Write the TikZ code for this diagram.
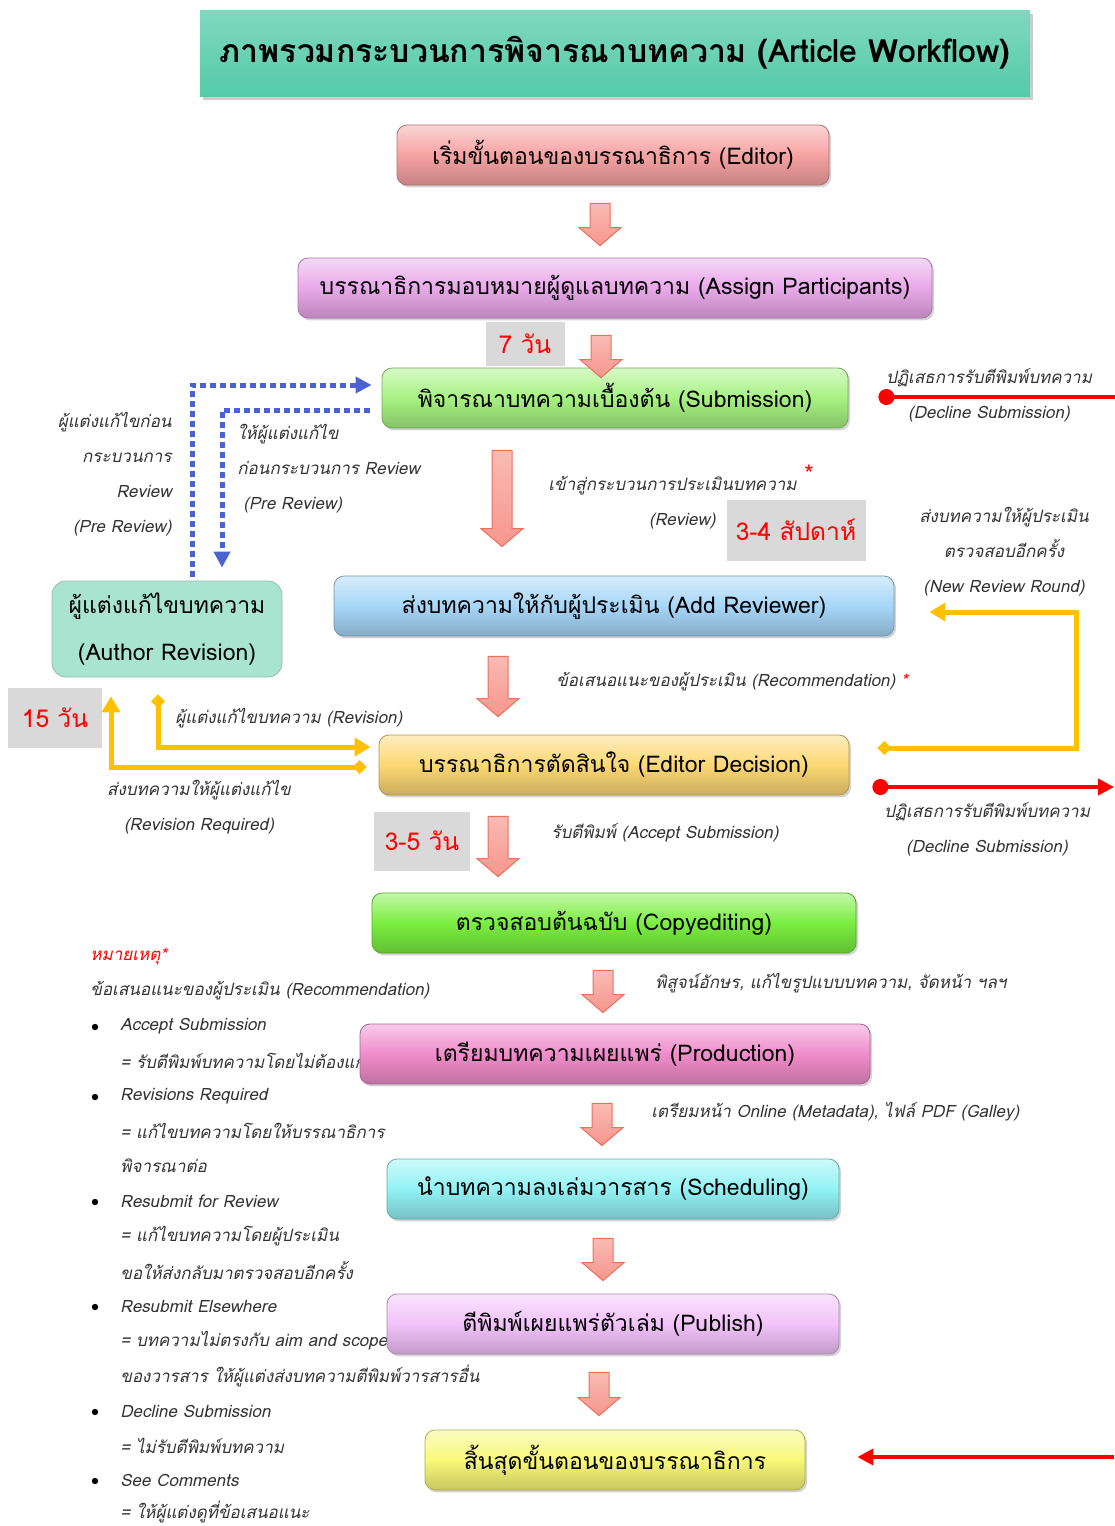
\documentclass[tikz,border=0pt]{standalone}
\usepackage{fontspec}
\setmainfont{Loma}[Script=Thai]
\usetikzlibrary{calc, arrows.meta, shadows}
\definecolor{tl}{HTML}{55CBA8}
\definecolor{pk}{HTML}{F7A2A2}
\definecolor{vi}{HTML}{E9A8EA}
\definecolor{lg}{HTML}{A6F282}
\definecolor{bl}{HTML}{A6D6F8}
\definecolor{mt}{HTML}{A8E4D0}
\definecolor{gd}{HTML}{FCD873}
\definecolor{gr}{HTML}{7AEE40}
\definecolor{mg}{HTML}{F08CCB}
\definecolor{cy}{HTML}{92F2F4}
\definecolor{lv}{HTML}{F2C2FA}
\definecolor{yl}{HTML}{F8F878}
\definecolor{gy}{HTML}{D9D9D9}
\definecolor{ye}{HTML}{FFC000}
\definecolor{bd}{HTML}{4A62D2}
\definecolor{ar}{HTML}{F6968C}
\definecolor{ae}{HTML}{EE6E5E}
\tikzset{
	box/.style={draw=#1!70!black, line width=0.4pt, rounded corners=5pt,
		top color=#1!45!white, bottom color=#1!80!black, middle color=#1,
		drop shadow={shadow xshift=1pt, shadow yshift=-1.2pt, opacity=0.35},
		minimum height=30pt, inner sep=0pt, font=\fontsize{11.5}{14}\selectfont},
	graybox/.style={fill=gy, text=red, inner sep=0pt, font=\fontsize{12.3}{14}\selectfont},
	lbl/.style={text=black!80, inner sep=0pt, font=\fontsize{8.5}{17.5}\selectfont\itshape},
	blockarr/.style={draw=ae, line width=0.5pt, top color=ar!65!white, bottom color=ar,
		to path={let \p1=(\tikztostart), \p2=(\tikztotarget) in
			(\x1-5pt,\y1) -- (\x1+5pt,\y1) -- (\x1+5pt,\y2+9pt) -- (\x1+10.5pt,\y2+9pt)
			-- (\x1,\y2) -- (\x1-10.5pt,\y2+9pt) -- (\x1-5pt,\y2+9pt) -- cycle}},
	yarr/.style={ye, line width=2.5pt, arrows={Diamond[length=7pt,width=7pt]-Triangle[length=8pt,width=9pt]}},
	rline/.style={red, line width=2pt},
	barr/.style={bd, line width=2.5pt, dash pattern=on 3pt off 2pt, -{Triangle[length=8pt,width=8pt]}}
}
\begin{document}
\begin{tikzpicture}[x=0.5pt, y=-0.5pt]

	\useasboundingbox (0,0) rectangle (1114,1526);

	\node[lbl, anchor=west, text=red] (note) at (90,957) {หมายเหตุ*};
	\node[lbl, anchor=west] (recnote) at (90,991) {ข้อเสนอแนะของผู้ประเมิน (Recommendation)};
	\foreach \y in {1027,1097,1202,1307,1412,1481} {
			\fill (95,\y) circle (1.6pt);
		}
	\foreach \y/\t in {1026/Accept Submission, 1061/= รับตีพิมพ์บทความโดยไม่ต้องแก้ไข,
			1096/Revisions Required, 1131/= แก้ไขบทความโดยให้บรรณาธิการ, 1166/พิจารณาต่อ,
			1201/Resubmit for Review, 1236/= แก้ไขบทความโดยผู้ประเมิน, 1271/ขอให้ส่งกลับมาตรวจสอบอีกครั้ง,
			1306/Resubmit Elsewhere, 1341/= บทความไม่ตรงกับ aim and scope,
			1376/ของวารสาร ให้ผู้แต่งส่งบทความตีพิมพ์วารสารอื่น,
			1411/Decline Submission, 1446/= ไม่รับตีพิมพ์บทความ,
			1480/See Comments, 1512/= ให้ผู้แต่งดูที่ข้อเสนอแนะ} {
			\node[lbl, anchor=west] (note\y) at (120,\y) {\t};
		}

	\node[top color=tl!75!white, bottom color=tl, minimum width=415pt, minimum height=43pt,
		drop shadow={shadow xshift=1.5pt, shadow yshift=-2pt, opacity=0.4},
		font=\bfseries\fontsize{16}{18}\selectfont] (title) at (615,53) {ภาพรวมกระบวนการพิจารณาบทความ (Article Workflow)};

	\node[box=pk, minimum width=216pt] (editor) at (613,155) {เริ่มขั้นตอนของบรรณาธิการ (Editor)};
	\node[box=vi, minimum width=317pt] (assign) at (615,288) {บรรณาธิการมอบหมายผู้ดูแลบทความ (Assign Participants)};
	\node[box=lg, minimum width=233pt] (submit) at (615,398) {พิจารณาบทความเบื้องต้น (Submission)};
	\node[box=bl, minimum width=280pt] (addrev) at (614,606) {ส่งบทความให้กับผู้ประเมิน (Add Reviewer)};
	\node[box=gd, minimum width=235pt] (decide) at (614,765) {บรรณาธิการตัดสินใจ (Editor Decision)};
	\node[box=gr, minimum width=242pt] (copyedit) at (614,923) {ตรวจสอบต้นฉบับ (Copyediting)};
	\node[box=mg, minimum width=255pt] (produce) at (615,1054) {เตรียมบทความเผยแพร่ (Production)};
	\node[box=cy, minimum width=226pt] (schedule) at (613,1189) {นำบทความลงเล่มวารสาร (Scheduling)};
	\node[box=lv, minimum width=226pt] (publish) at (613,1324) {ตีพิมพ์เผยแพร่ตัวเล่ม (Publish)};
	\node[box=yl, minimum width=190pt] (finish) at (615,1460) {สิ้นสุดขั้นตอนของบรรณาธิการ};

	\node[fill=mt, draw=mt!80!black!90, rounded corners=7pt, minimum width=115pt, minimum height=48pt,
		align=center, font=\fontsize{11.5}{23.5}\selectfont] (author) at (167,629) {ผู้แต่งแก้ไขบทความ\\(Author Revision)};

	\node[graybox, minimum width=39.5pt, minimum height=22pt] (d7) at (525,344) {7 วัน};
	\node[graybox, minimum width=69.5pt, minimum height=30.5pt] (d34) at (796,530) {3-4 สัปดาห์};
	\node[graybox, minimum width=47pt, minimum height=30pt] (d15) at (55,718) {15 วัน};
	\node[graybox, minimum width=48pt, minimum height=29.5pt] (d35) at (422,841) {3-5 วัน};

	\draw[blockarr] ($(editor.south)+(-13,18)$) to ($(assign.north)+(-13,-12)$);
	\draw[blockarr] ($(assign.south)+(-14,17)$) to ($(submit.north)+(-14,10)$);
	\draw[blockarr] ($(submit.south)+(-113,22)$) to ($(addrev.north)+(-113,-29)$);
	\draw[blockarr] ($(addrev.south)+(-116,20)$) to ($(decide.north)+(-116,-18)$);
	\draw[blockarr] ($(decide.south)+(-116,21)$) to ($(copyedit.north)+(-116,-16)$);
	\draw[blockarr] ($(copyedit.south)+(-11,17)$) to ($(produce.north)+(-11,-11)$);
	\draw[blockarr] ($(produce.south)+(-13,19)$) to ($(schedule.north)+(-13,-13)$);
	\draw[blockarr] ($(schedule.south)+(-10,19)$) to ($(publish.north)+(-10,-13)$);
	\draw[blockarr] ($(publish.south)+(-14,18)$) to ($(finish.north)+(-14,-14)$);

	\draw[barr] ($(author.north)+(25,-4)$) |- ($(submit.west)+(-10,-13)$);
	\draw[barr] ($(submit.west)+(-12,12)$) -| ($(author.north)+(55,-13)$);

	\draw[yarr] ($(author.south)+(-9,17)$) |- ($(decide.west)+(-8,-18)$);
	\draw[yarr] ($(decide.west)+(-12,2)$) -| ($(author.south)+(-56,19)$);
	\draw[yarr] ($(decide.east)+(28,-17)$) -| ($(addrev.east)+(182,6)$) |- ($(addrev.east)+(35,6)$);

	\coordinate (edge1) at (1140,397);
	\coordinate (edge2) at (1114,787);
	\coordinate (edge3) at (1114,1457);
	\draw[rline, {Circle[length=8pt]}-] ($(submit.east)+(30,-1)$) -- (edge1);
	\draw[rline, {Circle[length=8pt]}-{Triangle[length=8pt,width=8pt]}] ($(decide.east)+(23,22)$) -- (edge2);
	\draw[rline, -{Triangle[length=8pt,width=8pt]}] (edge3) -- ($(finish.east)+(52,-3)$);

	\node[lbl, align=right, anchor=east] (pre1) at (172,474) {ผู้แต่งแก้ไขก่อน\\กระบวนการ\\Review\\(Pre Review)};
	\node[lbl, align=left, anchor=west] (pre2) at (237,469) {ให้ผู้แต่งแก้ไข\\ก่อนกระบวนการ Review\\\hspace{3pt}(Pre Review)};
	\node[lbl, anchor=east] (rev1) at (797,486) {เข้าสู่กระบวนการประเมินบทความ};
	\node[text=red, font=\fontsize{12}{12}\selectfont] (star) at (809,474) {*};
	\node[lbl, anchor=east] (rev2) at (716,521) {(Review)};
	\node[lbl, align=center] (decl1) at (989,395) {ปฏิเสธการรับตีพิมพ์บทความ\\(Decline Submission)};
	\node[lbl, align=center] (round) at (1004,552) {ส่งบทความให้ผู้ประเมิน\\ตรวจสอบอีกครั้ง\\(New Review Round)};
	\node[lbl] (recom) at (732,682) {ข้อเสนอแนะของผู้ประเมิน (Recommendation) \textcolor{red}{*}};
	\node[lbl, anchor=west] (revis) at (175,718) {ผู้แต่งแก้ไขบทความ (Revision)};
	\node[lbl, align=center] (req) at (199,807) {ส่งบทความให้ผู้แต่งแก้ไข\\(Revision Required)};
	\node[lbl, align=center] (decl2) at (987,829) {ปฏิเสธการรับตีพิมพ์บทความ\\(Decline Submission)};
	\node[lbl, anchor=west] (accept) at (551,833) {รับตีพิมพ์ (Accept Submission)};
	\node[lbl, anchor=west] (proof) at (655,983) {พิสูจน์อักษร, แก้ไขรูปแบบบทความ, จัดหน้า ฯลฯ};
	\node[lbl, anchor=west] (galley) at (651,1112) {เตรียมหน้า Online (Metadata), ไฟล์ PDF (Galley)};

\end{tikzpicture}
\end{document}
